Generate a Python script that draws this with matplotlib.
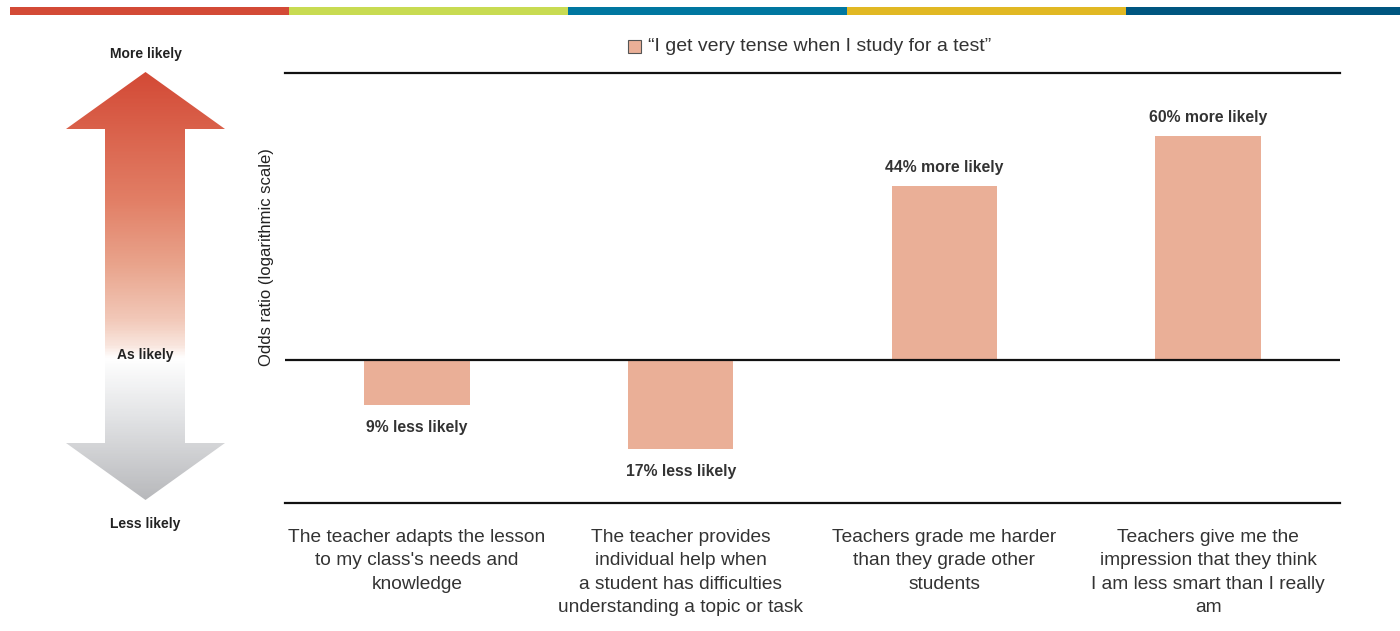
import numpy as np
import matplotlib
matplotlib.use("Agg")
import matplotlib.pyplot as plt
from matplotlib.colors import LinearSegmentedColormap
from matplotlib.patches import Polygon, Rectangle

plt.rcParams['font.family'] = ['Liberation Sans', 'DejaVu Sans']

# data
categories = [
    "The teacher adapts the lesson\nto my class's needs and\nknowledge",
    "The teacher provides\nindividual help when\na student has difficulties\nunderstanding a topic or task",
    "Teachers grade me harder\nthan they grade other\nstudents",
    "Teachers give me the\nimpression that they think\nI am less smart than I really\nam",
]
odds_ratios = [0.91, 0.83, 1.44, 1.60]
value_labels = ["9% less likely", "17% less likely", "44% more likely", "60% more likely"]
series_name = "\u201cI get very tense when I study for a test\u201d"
band_colors = ["#D34A36", "#C8DB52", "#0077A0", "#E1B823", "#005680"]

W, H = 1400, 631
fig = plt.figure(figsize=(W / 100, H / 100), dpi=100)

# overlay for decorations in pixel coords
deco = fig.add_axes([0, 0, 1, 1])
deco.set_xlim(0, W)
deco.set_ylim(H, 0)
deco.axis('off')

# top colour band
edges = [10, 289, 568, 847, 1126, 1400]
for i, c in enumerate(band_colors):
    deco.add_patch(Rectangle((edges[i], 7), edges[i + 1] - edges[i], 8, color=c, lw=0))

# gradient arrow
ax_l, ax_r, sh_l, sh_r = 66, 225, 105, 185
top, hb1, hb2, bot = 72, 129, 443, 500
cx = (ax_l + ax_r) / 2
arrow_pts = [(cx, top), (ax_r, hb1), (sh_r, hb1), (sh_r, hb2), (ax_r, hb2), (cx, bot),
             (ax_l, hb2), (sh_l, hb2), (sh_l, hb1), (ax_l, hb1)]
poly = Polygon(arrow_pts, closed=True, facecolor='none', edgecolor='none')
deco.add_patch(poly)
cmap = LinearSegmentedColormap.from_list(
    "arr", [(0, "#D34A36"), (0.3, "#E27F66"), (0.45, "#E9A48C"), (0.58, "#F2C9B9"),
            (0.64, "#F9E6DE"), (0.67, "#FFFFFF"), (0.8, "#E4E5E7"), (1.0, "#B8B9BC")])
grad = np.linspace(0, 1, 400).reshape(-1, 1)
im = deco.imshow(grad, cmap=cmap, extent=(ax_l, ax_r, bot, top), aspect='auto', zorder=1)
im.set_clip_path(poly)
deco.set_xlim(0, W)
deco.set_ylim(H, 0)

lab_kw = dict(ha='center', va='center', fontsize=10, fontweight='bold', color='#222222')
deco.text(cx, 54, "More likely", **lab_kw)
deco.text(cx, 355, "As likely", **lab_kw)
deco.text(cx, 524, "Less likely", **lab_kw)

# y label
deco.text(267, 257, "Odds ratio (logarithmic scale)", rotation=90, ha='center', va='center',
          fontsize=12, color='#222222')

# legend
deco.add_patch(Rectangle((628, 40), 13, 13, facecolor='#EAAF97', edgecolor='#555555', lw=0.8))
deco.text(648, 46.5, series_name, ha='left', va='center', fontsize=14, color='#333333')

# main chart
ax = fig.add_axes([285 / W, 1 - 503 / H, 1055 / W, 430 / H])
ax.set_yscale('log')
ax.set_ylim(0.741, 1.825)
ax.set_xlim(-0.5, 3.5)
x = np.arange(len(categories))
heights = [v - 1 for v in odds_ratios]
ax.bar(x, heights, bottom=1, width=0.4, color='#EAAF97', zorder=2)
ax.axhline(1, color='#111111', lw=1.6, zorder=3)
for s in ['left', 'right']:
    ax.spines[s].set_visible(False)
for s in ['top', 'bottom']:
    ax.spines[s].set_color('#111111')
    ax.spines[s].set_linewidth(1.6)
ax.set_yticks([])
ax.set_yticks([], minor=True)
ax.set_xticks(x)
ax.set_xticklabels(categories, fontsize=13.8, color='#333333', linespacing=1.5)
ax.tick_params(axis='x', length=0, pad=18.5)

for xi, v, lab in zip(x, odds_ratios, value_labels):
    if v >= 1:
        ax.annotate(lab, (xi, v), xytext=(0, 13), textcoords='offset points',
                    ha='center', va='center', fontsize=11.3, fontweight='bold', color='#333333')
    else:
        ax.annotate(lab, (xi, v), xytext=(0, -16), textcoords='offset points',
                    ha='center', va='center', fontsize=11.3, fontweight='bold', color='#333333')

fig.savefig("out.png", dpi=100)
